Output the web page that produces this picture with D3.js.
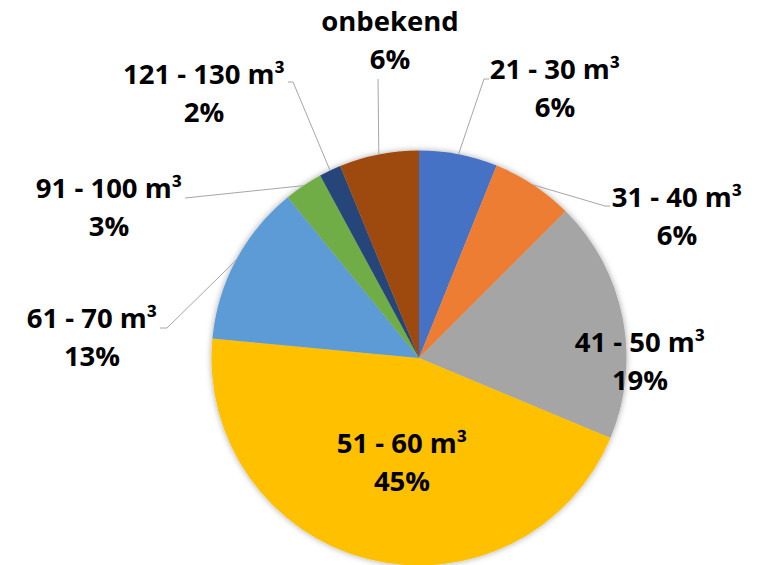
<!DOCTYPE html>
<html><head><meta charset="utf-8">
<script src="https://cdn.jsdelivr.net/npm/d3@7"></script>
<style>html,body{margin:0;padding:0;background:#fff;}svg{display:block;}</style>
</head><body>
<div id="chart"></div>
<script>
// ---- data ----
const categories = ["21 - 30 m³","31 - 40 m³","41 - 50 m³","51 - 60 m³","61 - 70 m³","91 - 100 m³","121 - 130 m³","onbekend"];
const values = [6.1, 6.4, 18.8, 45.2, 12.6, 3.0, 1.7, 6.2];
const colors = ["#4472C4","#ED7D31","#A5A5A5","#FFC000","#5B9BD5","#70AD47","#264478","#9E480E"];

// ---- layout (label anchor centers / leader line elbows) ----
const labelLayout = [
  {x:555, y:79,  elbow:[484,79], end:[489,79]},
  {x:677, y:207, elbow:[605,206], end:[610,206]},
  {x:640, y:352, inside:true},
  {x:402, y:453, inside:true},
  {x:92,  y:328, elbow:[167,328], end:[160,328]},
  {x:109, y:198, elbow:[185,198], end:[185,198]},
  {x:204, y:84,  elbow:[293,82], end:[288,82]},
  {x:390, y:31,  elbow:[378,79], end:[378,79]}
];

const W = 758, H = 565;
const cx = 419, cy = 358, R = 207.5;
const svg = d3.select("#chart").append("svg").attr("width", W).attr("height", H);

const defs = svg.append("defs");
const f = defs.append("filter").attr("id","sh").attr("x","-10%").attr("y","-10%").attr("width","120%").attr("height","120%");
f.append("feDropShadow").attr("dx",0).attr("dy",0).attr("stdDeviation",3).attr("flood-color","#000").attr("flood-opacity",0.35);

const data = categories.map((c,i)=>({cat:c, v:values[i], color:colors[i], lay:labelLayout[i]}));
const total = d3.sum(values);
const pie = d3.pie().value(d=>d.v).sort(null);
const arcs = pie(data);
const arc = d3.arc().innerRadius(0).outerRadius(R);

const g = svg.append("g").attr("transform",`translate(${cx},${cy})`);
g.append("g").attr("filter","url(#sh)")
  .selectAll("path").data(arcs).join("path")
  .attr("d", arc).attr("fill", d=>d.data.color);

// leader lines
const edgeArc = d3.arc().innerRadius(R).outerRadius(R);
arcs.filter(d=>!d.data.lay.inside).forEach(d=>{
  const p = edgeArc.centroid(d);
  const L = d.data.lay;
  const pts = [[cx+p[0], cy+p[1]], L.elbow, L.end];
  svg.append("path").attr("d", d3.line()(pts))
    .attr("fill","none").attr("stroke","#a6a6a6").attr("stroke-width",1);
});

// labels
const fmt = v => Math.round(v/total*100) + "%";
arcs.forEach(d=>{
  const L = d.data.lay;
  const t = svg.append("text").attr("x", L.x).attr("y", L.y)
    .attr("text-anchor","middle")
    .attr("font-family","'Open Sans', sans-serif").attr("font-weight",700)
    .attr("font-size",27.5).attr("fill","#000");
  t.append("tspan").attr("x",L.x).attr("y",L.y).text(d.data.cat);
  t.append("tspan").attr("x",L.x).attr("y",L.y+38).text(fmt(d.data.v));
});
</script>
</body></html>
